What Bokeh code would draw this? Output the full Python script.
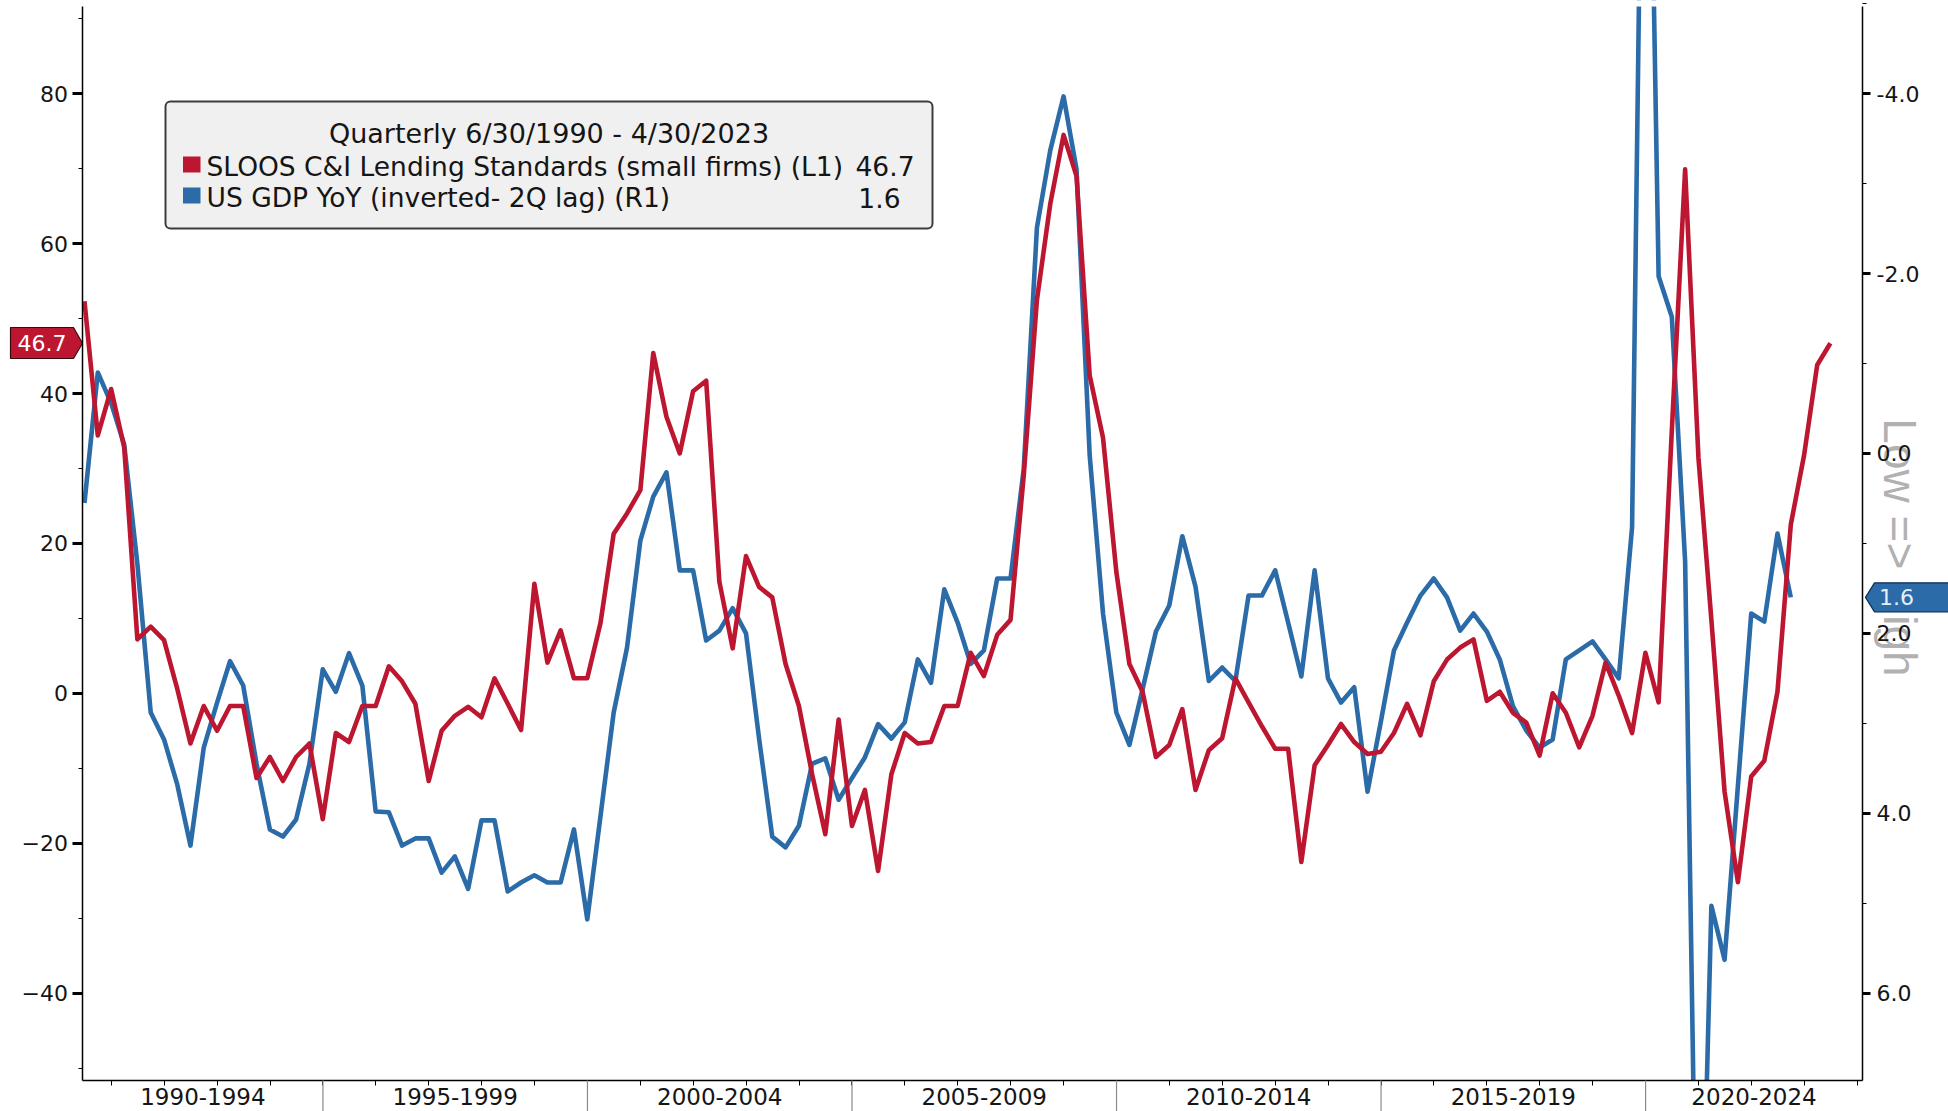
import numpy as np
import pandas as pd
from bokeh.plotting import figure
from bokeh.models import (Range1d, LinearAxis, FixedTicker, NumeralTickFormatter,
                          Label, BoxAnnotation, PolyAnnotation, Arrow, ColumnDataSource)
from bokeh.embed import file_html
from bokeh.resources import INLINE

# ---------------- data ----------------
# SLOOS C&I lending standards, small firms (net % tightening), quarterly from 6/30/1990
sloos_small = [
    52.3, 34.4, 40.6, 32.8, 7.2, 8.9, 7.1, 0.6, -6.7, -1.7,
    -5.0, -1.7, -1.7, -11.3, -8.5, -11.7, -8.5, -6.7, -16.8, -5.3,
    -6.5, -1.7, -1.7, 3.6, 1.6, -1.4, -11.7, -5.0, -3.0, -1.8,
    -3.2, 2.0, -1.4, -4.9, 14.6, 4.1, 8.4, 2.0, 2.0, 9.4,
    21.3, 24.0, 27.1, 45.4, 36.9, 32.0, 40.3, 41.7, 14.9, 6.0,
    18.3, 14.2, 12.8, 3.9, -1.7, -10.8, -18.8, -3.5, -17.7, -12.9,
    -23.7, -10.8, -5.3, -6.7, -6.5, -1.7, -1.7, 5.4, 2.3, 7.8,
    9.8, 29.1, 52.5, 65.3, 74.5, 69.0, 42.4, 34.1, 16.2, 3.9,
    0.2, -8.5, -6.9, -2.1, -12.9, -7.6, -6.0, 2.0, -1.2, -4.4,
    -7.4, -7.4, -22.5, -9.6, -6.9, -4.1, -6.5, -8.1, -7.8, -5.3,
    -1.4, -5.6, 1.6, 4.5, 6.1, 7.2, -1.0, 0.2, -2.6, -3.9,
    -8.3, 0.0, -2.6, -7.2, -3.0, 4.1, -0.3, -5.3, 5.4, -1.2,
    35.0, 69.9, 31.4, 9.8, -13.1, -25.2, -11.1, -9.0, 0.2, 22.5,
    31.8, 43.8, 46.7,
]

# US GDP YoY (inverted, 2Q lag), right axis units
gdp_yoy_inv = [
    0.55, -0.90, -0.56, -0.10, 1.23, 2.88, 3.18, 3.68, 4.36, 3.27,
    2.77, 2.31, 2.58, 3.45, 4.18, 4.26, 4.07, 3.45, 2.40, 2.65,
    2.22, 2.58, 3.98, 3.99, 4.36, 4.28, 4.28, 4.66, 4.48, 4.84,
    4.08, 4.08, 4.87, 4.77, 4.69, 4.77, 4.77, 4.18, 5.18, 4.03,
    2.88, 2.16, 0.97, 0.48, 0.21, 1.30, 1.30, 2.08, 1.97, 1.72,
    2.00, 3.17, 4.26, 4.38, 4.14, 3.45, 3.39, 3.85, 3.61, 3.38,
    3.01, 3.17, 2.99, 2.29, 2.55, 1.51, 1.88, 2.34, 2.19, 1.39,
    1.39, 0.17, -2.51, -3.37, -3.97, -3.16, 0.02, 1.78, 2.88, 3.24,
    2.62, 1.98, 1.69, 0.92, 1.48, 2.53, 2.38, 2.53, 1.58, 1.58,
    1.30, 1.88, 2.48, 1.30, 2.50, 2.77, 2.60, 3.76, 2.98, 2.19,
    1.88, 1.58, 1.39, 1.60, 1.97, 1.78, 1.98, 2.29, 2.81, 3.08,
    3.27, 3.18, 2.29, 2.19, 2.09, 2.29, 2.50, 0.82, -10.5, -1.97,
    -1.52, 1.20, 10.6, 5.03, 5.63, 3.70, 1.78, 1.87, 0.89, 1.60,
]

period_labels = ["1990-1994", "1995-1999", "2000-2004", "2005-2009",
                 "2010-2014", "2015-2019", "2020-2024"]
period_starts = [1990, 1995, 2000, 2005, 2010, 2015, 2020]
left_ticks = [-40, -20, 0, 20, 40, 60, 80]
left_minor = [-50, -30, -10, 10, 30, 50, 70, 90]
right_ticks = [-4, -2, 0, 2, 4, 6]
right_minor = [-5, -3, -1, 1, 3, 5]

legend_title = "Quarterly 6/30/1990 - 4/30/2023"
sloos_name = "SLOOS C&I Lending Standards (small firms) (L1)"
gdp_name = "US GDP YoY (inverted- 2Q lag) (R1)"
sloos_last = "46.7"
gdp_last = "1.6"
scale_note = "Low => High"

# ---------------- styling / geometry ----------------
RED = "#bd1631"
BLUE = "#2b6ba8"
FONT = "DejaVu Sans"
TXT = "#151515"
W, H = 1948, 1111

dates = pd.date_range("1990-06-30", periods=len(sloos_small), freq="QE")
t = np.asarray(dates.year + (dates.dayofyear - 1) / 365.25, dtype=float)
t_red = t
t_blue = t[:len(gdp_yoy_inv)]

# data area (page pixels) and its data limits
PX_L, PX_R = 82.4, 1862.0
PY_T, PY_B = 6.0, 1080.0
X0, X1 = 1990.463, 2024.10
K = (X1 - X0) / (PX_R - PX_L)
PPU = 7.495  # pixels per left-axis unit


def xd(px):
    return X0 + (px - PX_L) * K


def yd(py):
    return 80 - (py - 93.2) / PPU


def r_of(l):  # left-axis value -> right-axis value
    return -4 + (80 - l) / 12.0


def l_of(r):  # right-axis value -> left-axis value
    return 80 - 12.0 * (r + 4)


Y0, Y1 = yd(PY_B), yd(PY_T)

p = figure(width=W, height=H, output_backend="svg", toolbar_location=None,
           x_range=Range1d(xd(0), xd(W)), y_range=Range1d(yd(H), yd(0)),
           min_border=0, min_border_left=0, min_border_right=0,
           min_border_top=0, min_border_bottom=0)
p.extra_y_ranges = {"right": Range1d(r_of(yd(H)), r_of(yd(0)))}
p.xgrid.visible = False
p.ygrid.visible = False
p.outline_line_color = None
p.background_fill_color = "white"
p.border_fill_color = "white"

# ---- series ----
p.line(t_blue, gdp_yoy_inv, y_range_name="right", line_color=BLUE, line_width=4.6,
       line_join="round")
p.line(t_red, sloos_small, line_color=RED, line_width=4.6, line_join="round")

# keep the series inside the plotting area
p.add_layout(BoxAnnotation(left=xd(-5), right=xd(W + 5), top=Y0, bottom=yd(H + 20),
                           fill_color="white", fill_alpha=1, line_alpha=0))
p.add_layout(BoxAnnotation(left=xd(-5), right=xd(W + 5), top=yd(-20), bottom=Y1,
                           fill_color="white", fill_alpha=1, line_alpha=0))

# ---- x axis ----
centers = [(max(s, X0) + min(s + 5, X1)) / 2.0 for s in period_starts]
xa = p.xaxis[0]
xa.fixed_location = Y0
xa.bounds = (X0, X1)
xa.ticker = FixedTicker(ticks=centers, minor_ticks=list(range(1991, 2025)))
xa.major_label_overrides = dict(zip(centers, period_labels))
xa.major_tick_out = 0
xa.major_tick_in = 0
xa.minor_tick_out = 5
xa.minor_tick_in = 0
xa.minor_tick_line_color = "black"
xa.axis_line_color = "black"
xa.axis_line_width = 1.5
xa.major_label_standoff = 2
xa.major_label_text_font = FONT
xa.major_label_text_font_size = "23px"
xa.major_label_text_color = TXT
xa.level = "overlay"

# ---- left axis ----
ya = p.yaxis[0]
ya.fixed_location = X0
ya.bounds = (Y0, Y1)
ya.ticker = FixedTicker(ticks=left_ticks, minor_ticks=left_minor)
ya.major_tick_out = 10
ya.major_tick_in = 0
ya.major_tick_line_width = 3
ya.minor_tick_out = 4
ya.minor_tick_in = 0
ya.axis_line_width = 1.5
ya.major_label_standoff = 5
ya.major_label_text_font = FONT
ya.major_label_text_font_size = "22px"
ya.major_label_text_color = TXT
ya.level = "overlay"

# ---- right axis ----
ra = LinearAxis(y_range_name="right", fixed_location=X1,
                bounds=(r_of(Y1), r_of(Y0)),
                ticker=FixedTicker(ticks=right_ticks, minor_ticks=right_minor),
                formatter=NumeralTickFormatter(format="0.0"))
ra.major_tick_out = 8
ra.major_tick_in = 0
ra.major_tick_line_width = 3
ra.minor_tick_out = 4
ra.minor_tick_in = 0
ra.axis_line_width = 1.5
ra.major_label_standoff = 6
ra.major_label_text_font = FONT
ra.major_label_text_font_size = "22px"
ra.major_label_text_color = TXT
ra.level = "overlay"
p.add_layout(ra, "right")

# ---- period separators below the x axis ----
seps = [s for s in period_starts if X0 < s < X1]
sep_src = ColumnDataSource(dict(x=seps, y0=[Y0] * len(seps), y1=[yd(H + 2)] * len(seps)))
p.add_layout(Arrow(end=None, x_start="x", y_start="y0", x_end="x", y_end="y1",
                   source=sep_src, line_color="#8a8a8a", line_width=1.2, level="overlay"))

# ---- "Low => High" note on the right ----
p.add_layout(Label(x=xd(1899), y=yd(547), text=scale_note, angle=-np.pi / 2,
                   text_align="center", text_baseline="middle",
                   text_font="Liberation Sans", text_font_size="46px",
                   text_color="#9c9c9c", text_alpha=0.8))

# ---- legend box ----
p.add_layout(BoxAnnotation(left=xd(165), right=xd(932), top=yd(101), bottom=yd(228),
                           fill_color="#f0f0f0", fill_alpha=1, line_color="#3c3c3c",
                           line_alpha=1, line_width=2, border_radius=5))
p.add_layout(BoxAnnotation(left=xd(182.5), right=xd(200), top=yd(156), bottom=yd(172),
                           fill_color=RED, fill_alpha=1, line_alpha=0))
p.add_layout(BoxAnnotation(left=xd(182.5), right=xd(200), top=yd(187), bottom=yd(203),
                           fill_color=BLUE, fill_alpha=1, line_alpha=0))


def lab(x, y, text, align="left", size="26.5px", color=TXT, **kw):
    return Label(x=x, y=y, text=text, text_align=align, text_baseline="middle",
                 text_font=FONT, text_font_size=size, text_color=color, **kw)


p.add_layout(lab(xd(548.5), yd(133), legend_title, align="center", size="27px"))
p.add_layout(lab(xd(206), yd(165.5), sloos_name))
p.add_layout(lab(xd(914), yd(165.5), sloos_last, align="right"))
p.add_layout(lab(xd(206), yd(197), gdp_name))
p.add_layout(lab(xd(900), yd(197), gdp_last, align="right"))

# ---- last-value tags ----
tag_l_top, tag_l_bot = yd(327), yd(358)
tag_l_mid = sloos_small[-1]
p.add_layout(PolyAnnotation(xs=[xd(10), xd(73), xd(82), xd(73), xd(10)],
                            ys=[tag_l_top, tag_l_top, tag_l_mid, tag_l_bot, tag_l_bot],
                            fill_color=RED, fill_alpha=1, line_color="#3a0a12",
                            line_alpha=1, line_width=1.2))
p.add_layout(lab(xd(41.5), tag_l_mid, sloos_last, align="center", size="22px", color="white"))

tag_r_mid = l_of(gdp_yoy_inv[-1])
tag_r_top, tag_r_bot = tag_r_mid + 14.5 / PPU, tag_r_mid - 14.5 / PPU
p.add_layout(PolyAnnotation(xs=[xd(1865), xd(1874), xd(1960), xd(1960), xd(1874)],
                            ys=[tag_r_mid, tag_r_top, tag_r_top, tag_r_bot, tag_r_bot],
                            fill_color=BLUE, fill_alpha=1, line_color="#0f2f55",
                            line_alpha=1, line_width=1.2))
p.add_layout(lab(xd(1896), tag_r_mid, gdp_last, align="center", size="22px", color="#e8eef6"))

open("out.html", "w").write(file_html(p, INLINE))
